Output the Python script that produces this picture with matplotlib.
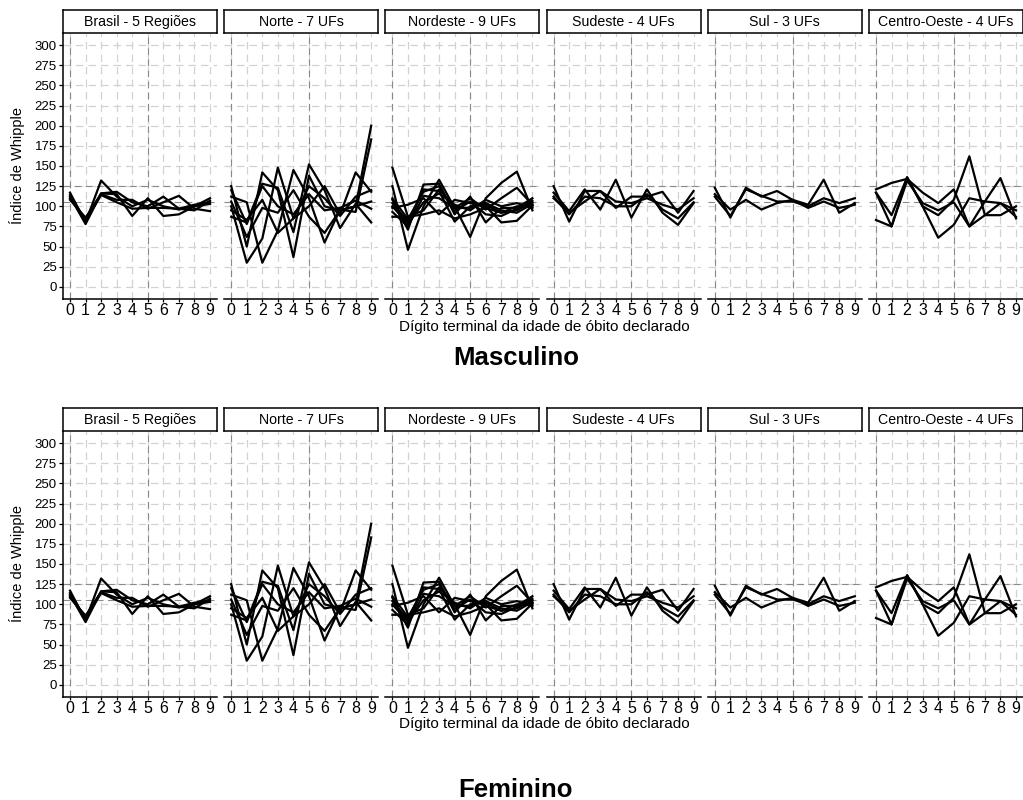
import matplotlib
matplotlib.use('Agg')
import matplotlib.pyplot as plt

plt.rcParams['font.family'] = ['Liberation Sans', 'DejaVu Sans']

# Terminal digit of the declared age at death
digitos = [0, 1, 2, 3, 4, 5, 6, 7, 8, 9]

# Whipple index by terminal digit, one list per UF / region
brasil = [
    [117, 80, 132, 112, 100, 108, 100, 96, 100, 110],
    [112, 78, 116, 115, 88, 110, 88, 90, 100, 103],
    [110, 84, 116, 118, 105, 100, 112, 97, 95, 107],
    [108, 86, 115, 108, 108, 97, 105, 113, 97, 94],
    [114, 82, 114, 105, 97, 98, 98, 97, 102, 105],
]
norte = [
    [125, 50, 142, 120, 37, 138, 100, 95, 100, 200],
    [112, 105, 30, 70, 145, 110, 55, 96, 93, 183],
    [100, 30, 60, 148, 85, 100, 125, 90, 142, 118],
    [87, 80, 128, 123, 68, 152, 120, 73, 103, 80],
    [106, 62, 98, 92, 120, 87, 67, 95, 100, 106],
    [95, 83, 108, 67, 85, 125, 110, 88, 112, 120],
    [120, 78, 125, 100, 90, 115, 95, 98, 107, 97],
]
nordeste = [
    [148, 87, 95, 121, 100, 62, 110, 129, 143, 95],
    [125, 46, 100, 133, 98, 110, 96, 110, 123, 102],
    [108, 71, 127, 128, 90, 112, 80, 98, 98, 110],
    [104, 81, 121, 119, 81, 100, 102, 92, 95, 105],
    [98, 102, 110, 90, 108, 104, 100, 80, 82, 101],
    [93, 75, 113, 110, 98, 98, 104, 95, 92, 103],
    [87, 87, 90, 95, 85, 90, 98, 92, 100, 100],
    [100, 78, 105, 116, 102, 95, 108, 100, 104, 98],
    [110, 84, 118, 125, 94, 106, 90, 88, 97, 107],
]
sudeste = [
    [125, 81, 119, 119, 98, 112, 112, 118, 92, 119],
    [117, 94, 121, 96, 133, 86, 121, 92, 77, 104],
    [110, 92, 106, 119, 106, 104, 110, 102, 96, 110],
    [112, 90, 112, 110, 100, 100, 115, 96, 85, 105],
]
sul = [
    [123, 86, 123, 112, 119, 108, 102, 133, 92, 104],
    [112, 88, 121, 113, 106, 106, 100, 110, 104, 110],
    [115, 96, 108, 96, 104, 108, 98, 106, 98, 102],
]
centro_oeste = [
    [121, 129, 134, 117, 104, 121, 75, 106, 104, 87],
    [117, 89, 136, 100, 89, 108, 162, 89, 89, 100],
    [83, 75, 136, 100, 61, 77, 110, 106, 135, 85],
    [117, 75, 132, 104, 95, 105, 75, 89, 104, 95],
]

paineis = ['Brasil - 5 Regiões', 'Norte - 7 UFs', 'Nordeste - 9 UFs',
           'Sudeste - 4 UFs', 'Sul - 3 UFs', 'Centro-Oeste - 4 UFs']
dados = [brasil, norte, nordeste, sudeste, sul, centro_oeste]

# Same values shown for both sexes
sexos = ['Masculino', 'Feminino']

W, H = 1023, 800
fig = plt.figure(figsize=(W / 100, H / 100), dpi=100)


def px_axes(left, top, width, height):
    return fig.add_axes([left / W, 1 - (top + height) / H, width / W, height / H])


linhas_y = [105, 125]
linhas_x = [0, 5]

# (panel top, x label y, title y) in pixels
linhas_layout = [(33, 327, 358), (431, 724, 790)]

for sexo, (ptop, xlab_y, tit_y) in zip(sexos, linhas_layout):
    ph = 266
    for i, (nome, series) in enumerate(zip(paineis, dados)):
        left = 63 + 161.2 * i
        ax = px_axes(left, ptop, 154, ph)
        for v in range(0, 301, 25):
            ax.axhline(v, color='#d2d2d2', lw=0.9, ls=(0, (6, 4)), zorder=0)
        for d in digitos:
            ax.axvline(d, color='#d2d2d2', lw=0.9, ls=(0, (6, 4)), zorder=0)
        for v in linhas_y:
            ax.axhline(v, color='#8a8a8a', lw=0.8, ls=(0, (6, 4)), zorder=1)
        for d in linhas_x:
            ax.axvline(d, color='#8a8a8a', lw=0.8, ls=(0, (6, 4)), zorder=1)
        for s in series:
            ax.plot(digitos, s, color='black', lw=1.6, zorder=3)
        ax.set_xlim(-0.45, 9.45)
        ax.set_ylim(-15, 315)
        ax.spines['top'].set_visible(False)
        ax.spines['right'].set_visible(False)
        ax.spines['bottom'].set_linewidth(1.1)
        ax.set_xticks(digitos)
        ax.tick_params(axis='x', labelsize=11.5, length=2.5, width=0.9, pad=0.5)
        ax.set_yticks(range(0, 301, 25))
        if i == 0:
            ax.spines['left'].set_linewidth(1.1)
            ax.tick_params(axis='y', labelsize=9.5, length=3, width=0.9, pad=1.5)
        else:
            ax.spines['left'].set_visible(False)
            ax.tick_params(axis='y', left=False, labelleft=False)

        # facet strip
        sax = px_axes(left, ptop - 23, 154, 23)
        sax.set_xticks([])
        sax.set_yticks([])
        for sp in sax.spines.values():
            sp.set_linewidth(1.1)
        sax.text(0.5, 0.47, nome, ha='center', va='center', fontsize=10.2,
                 transform=sax.transAxes)

    fig.text(544 / W, 1 - xlab_y / H, 'Dígito terminal da idade de óbito declarado',
             ha='center', va='center', fontsize=11)
    fig.text(17 / W, 1 - (ptop + ph / 2) / H, 'Índice de Whipple', rotation=90,
             ha='center', va='center', fontsize=10.5)
    fig.text(516 / W, 1 - tit_y / H, sexo, ha='center', va='center',
             fontsize=18.5, fontweight='bold')

plt.savefig('out.png', dpi=100)
